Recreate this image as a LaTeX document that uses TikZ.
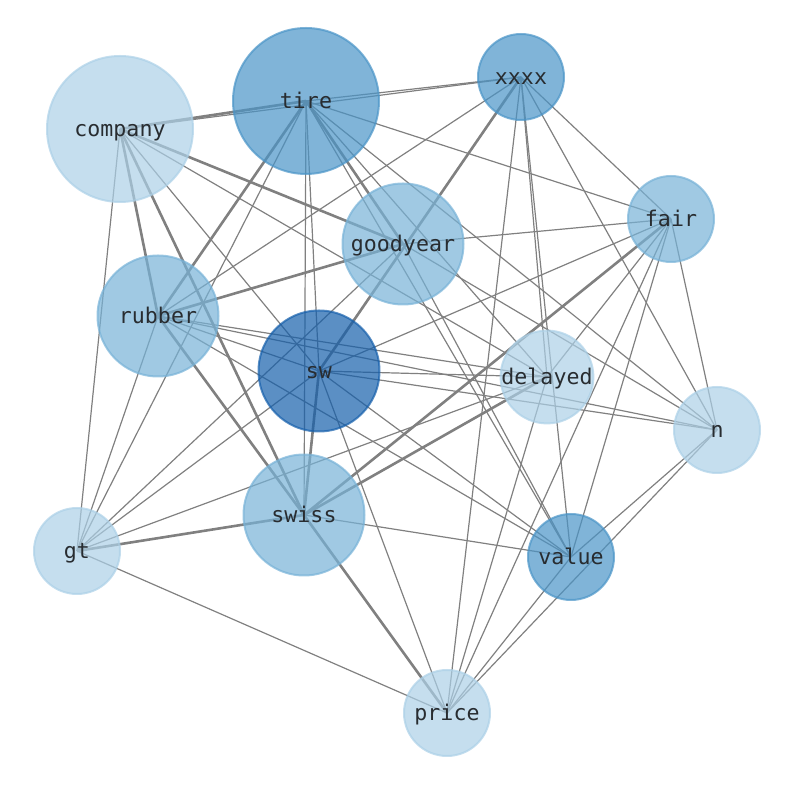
\documentclass[tikz,border=0pt]{standalone}
\usepackage{fontspec}
\setmonofont{DejaVu Sans Mono}
\usepackage{tikz}
\usetikzlibrary{positioning}
\pgfdeclarelayer{background}
\pgfsetlayers{background,main}
\definecolor{pale}{RGB}{172,208,231}
\definecolor{soft}{RGB}{119,178,215}
\definecolor{mid}{RGB}{74,148,199}
\definecolor{deep}{RGB}{21,95,171}
\definecolor{edgec}{RGB}{128,128,128}
\definecolor{labelc}{RGB}{40,44,48}
\tikzstyle{word} = [circle, inner sep=0pt, line width=1pt, fill opacity=0.7, draw opacity=0.7, text opacity=1, text=labelc, text height=9pt, text depth=1pt, font=\ttfamily\fontsize{10.8}{12}\selectfont]
\tikzstyle{big} = [word, minimum size=73pt]
\tikzstyle{medium} = [word, minimum size=60.5pt]
\tikzstyle{small} = [word, minimum size=43pt]
\tikzstyle{link} = [draw=edgec, line width=0.6pt]
\tikzstyle{strong} = [draw=edgec, line width=1.3pt]

\begin{document}
\begin{tikzpicture}[x=0.5pt, y=-0.5pt]
\useasboundingbox (0, 0) rectangle (794, 790);
% words
\node [big, fill=pale, draw=pale] (company) at (120, 129) {company};
\node [big, fill=mid, draw=mid] (tire) at (306, 101) {tire};
\node [small, fill=mid, draw=mid] (xxxx) at (521, 77) {xxxx};
\node [small, fill=soft, draw=soft] (fair) at (671, 219) {fair};
\node [medium, fill=soft, draw=soft] (goodyear) at (403, 244) {goodyear};
\node [medium, fill=soft, draw=soft] (rubber) at (158, 316) {rubber};
\node [medium, fill=deep, draw=deep] (sw) at (319, 371) {sw};
\node [small, fill=pale, draw=pale] (delayed) at (547, 377) {delayed};
\node [small, fill=pale, draw=pale] (n) at (717, 430) {n};
\node [medium, fill=soft, draw=soft] (swiss) at (304, 515) {swiss};
\node [small, fill=pale, draw=pale] (gt) at (77, 551) {gt};
\node [small, fill=mid, draw=mid] (value) at (571, 557) {value};
\node [small, fill=pale, draw=pale] (price) at (447, 713) {price};

\begin{pgfonlayer}{background}
% strong links
\draw [strong] (company.center) to (tire.center);
\draw [strong] (company.center) to (goodyear.center);
\draw [strong] (company.center) to (swiss.center);
\draw [strong] (company.center) to (rubber.center);
\draw [strong] (tire.center) to (rubber.center);
\draw [strong] (tire.center) to (goodyear.center);
\draw [strong] (xxxx.center) to (sw.center);
\draw [strong] (fair.center) to (swiss.center);
\draw [strong] (goodyear.center) to (rubber.center);
\draw [strong] (rubber.center) to (swiss.center);
\draw [strong] (swiss.center) to (gt.center);
\draw [strong] (swiss.center) to (delayed.center);
\draw [strong] (swiss.center) to (price.center);
\draw [strong] (sw.center) to (swiss.center);
% thin links
\draw [link] (company.center) to (xxxx.center);
\draw [link] (company.center) to (delayed.center);
\draw [link] (company.center) to (sw.center);
\draw [link] (company.center) to (gt.center);
\draw [link] (tire.center) to (xxxx.center);
\draw [link] (tire.center) to (gt.center);
\draw [link] (tire.center) to (sw.center);
\draw [link] (tire.center) to (swiss.center);
\draw [link] (tire.center) to (fair.center);
\draw [link] (tire.center) to (n.center);
\draw [link] (tire.center) to (value.center);
\draw [link] (tire.center) to (delayed.center);
\draw [link] (xxxx.center) to (fair.center);
\draw [link] (xxxx.center) to (rubber.center);
\draw [link] (xxxx.center) to (n.center);
\draw [link] (xxxx.center) to (value.center);
\draw [link] (xxxx.center) to (delayed.center);
\draw [link] (xxxx.center) to (price.center);
\draw [link] (fair.center) to (goodyear.center);
\draw [link] (fair.center) to (sw.center);
\draw [link] (fair.center) to (delayed.center);
\draw [link] (fair.center) to (price.center);
\draw [link] (fair.center) to (value.center);
\draw [link] (fair.center) to (n.center);
\draw [link] (goodyear.center) to (gt.center);
\draw [link] (goodyear.center) to (n.center);
\draw [link] (goodyear.center) to (value.center);
\draw [link] (rubber.center) to (gt.center);
\draw [link] (rubber.center) to (sw.center);
\draw [link] (rubber.center) to (delayed.center);
\draw [link] (rubber.center) to (n.center);
\draw [link] (rubber.center) to (value.center);
\draw [link] (sw.center) to (gt.center);
\draw [link] (sw.center) to (delayed.center);
\draw [link] (sw.center) to (n.center);
\draw [link] (sw.center) to (value.center);
\draw [link] (sw.center) to (price.center);
\draw [link] (swiss.center) to (value.center);
\draw [link] (delayed.center) to (gt.center);
\draw [link] (delayed.center) to (price.center);
\draw [link] (n.center) to (value.center);
\draw [link] (n.center) to (price.center);
\draw [link] (value.center) to (price.center);
\draw [link] (price.center) to (gt.center);
\end{pgfonlayer}
\end{tikzpicture}
\end{document}
